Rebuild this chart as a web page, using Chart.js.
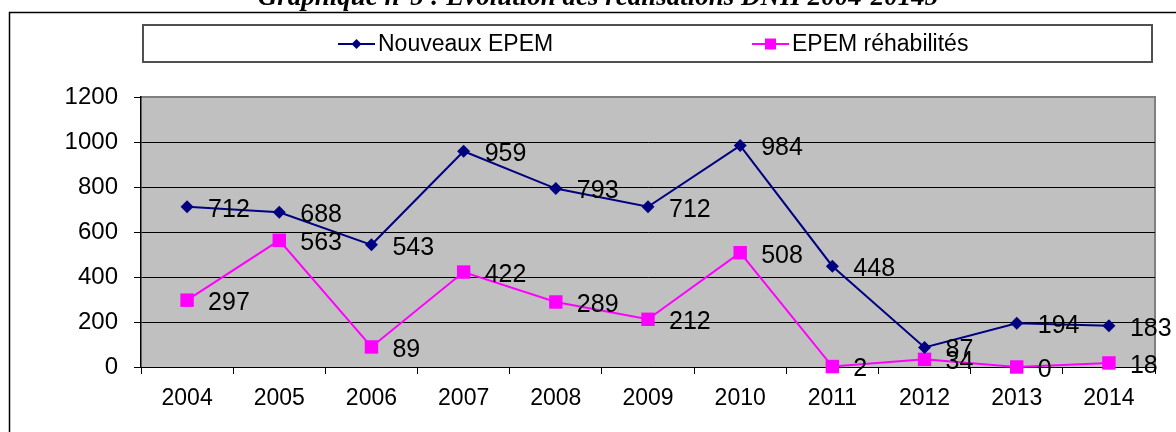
<!DOCTYPE html>
<html>
<head>
<meta charset="utf-8">
<script src="https://cdn.jsdelivr.net/npm/chart.js@4/dist/chart.umd.min.js"></script>
<style>
  html, body { margin: 0; padding: 0; background: #fff; }
  #wrap { width: 1176px; height: 432px; position: relative; }
</style>
</head>
<body>
<div id="wrap"><canvas id="chart" width="1176" height="432"></canvas></div>
<script>
// Data
const years = ['2004', '2005', '2006', '2007', '2008', '2009', '2010', '2011', '2012', '2013', '2014'];
const nouveaux = [712, 688, 543, 959, 793, 712, 984, 448, 87, 194, 183];
const rehabilites = [297, 563, 89, 422, 289, 212, 508, 2, 34, 0, 18];
const yTicks = [0, 200, 400, 600, 800, 1000, 1200];
const titleText = 'Graphique n°5 : Evolution des réalisations DNH 2004-20145';

const FONT = '"Liberation Sans", Arial, sans-serif';

// background, plot frame, outer frame, title, legend, value labels
const framePlugin = {
    id: 'frame',
    beforeDraw(chart) {
        const { ctx, chartArea: a } = chart;
        ctx.save();
        ctx.fillStyle = '#fff';
        ctx.fillRect(0, 0, chart.width, chart.height);
        ctx.fillStyle = '#c0c0c0';
        ctx.fillRect(a.left, a.top, a.right - a.left, a.bottom - a.top);
        ctx.strokeStyle = '#808080';
        ctx.lineWidth = 2;
        ctx.beginPath();
        ctx.moveTo(a.left, a.top);
        ctx.lineTo(a.right, a.top);
        ctx.lineTo(a.right, a.bottom);
        ctx.stroke();
        ctx.restore();
    },
    afterDraw(chart) {
        const { ctx } = chart;
        ctx.save();
        // outer frame
        ctx.strokeStyle = '#000';
        ctx.lineWidth = 1.5;
        ctx.beginPath();
        ctx.moveTo(9.5, chart.height);
        ctx.lineTo(9.5, 12.5);
        ctx.lineTo(chart.width, 12.5);
        ctx.stroke();
        // title (cut at the top like the source)
        ctx.fillStyle = '#000';
        ctx.font = 'bold italic 27px "Liberation Serif", "Times New Roman", serif';
        ctx.textAlign = 'center';
        ctx.textBaseline = 'alphabetic';
        ctx.fillText(titleText, 598, 5);

        // legend box
        ctx.strokeStyle = '#505050';
        ctx.lineWidth = 2;
        ctx.strokeRect(143, 25, 1009, 37);
        const itemX = [338, 752];
        ctx.font = '23px ' + FONT;
        ctx.textAlign = 'left';
        ctx.textBaseline = 'middle';
        chart.data.datasets.forEach((ds, i) => {
            const x = itemX[i], y = 44;
            ctx.strokeStyle = ds.borderColor;
            ctx.lineWidth = 2;
            ctx.beginPath();
            ctx.moveTo(x, y);
            ctx.lineTo(x + 37, y);
            ctx.stroke();
            ctx.fillStyle = ds.pointBackgroundColor;
            if (ds.pointStyle === 'rectRot') {
                ctx.beginPath();
                ctx.moveTo(x + 18.5, y - 5);
                ctx.lineTo(x + 23.5, y);
                ctx.lineTo(x + 18.5, y + 5);
                ctx.lineTo(x + 13.5, y);
                ctx.closePath();
                ctx.fill();
            } else {
                ctx.fillRect(x + 13, y - 5.5, 11, 11);
            }
            ctx.fillStyle = '#000';
            ctx.fillText(ds.label, x + 40, y + 1);
        });
        ctx.restore();
    },
    afterDatasetsDraw(chart) {
        const { ctx } = chart;
        ctx.save();
        ctx.fillStyle = '#000';
        ctx.font = '25px ' + FONT;
        ctx.textAlign = 'left';
        ctx.textBaseline = 'middle';
        chart.data.datasets.forEach((ds, i) => {
            const meta = chart.getDatasetMeta(i);
            meta.data.forEach((pt, j) => {
                ctx.fillText(String(ds.data[j]), pt.x + 21, pt.y + 3);
            });
        });
        ctx.restore();
    }
};

new Chart(document.getElementById('chart'), {
    type: 'line',
    data: {
        labels: years,
        datasets: [{
            label: 'Nouveaux EPEM',
            data: nouveaux,
            borderColor: '#000080',
            backgroundColor: '#000080',
            pointBackgroundColor: '#000080',
            pointBorderColor: '#000080',
            pointStyle: 'rectRot',
            pointRadius: 6.5,
            pointBorderWidth: 0,
            borderWidth: 2,
            tension: 0,
            clip: false
        }, {
            label: 'EPEM réhabilités',
            data: rehabilites,
            borderColor: '#ff00ff',
            backgroundColor: '#ff00ff',
            pointBackgroundColor: '#ff00ff',
            pointBorderColor: '#ff00ff',
            pointStyle: 'rect',
            pointRadius: 9.5,
            pointBorderWidth: 0,
            borderWidth: 2,
            tension: 0,
            clip: false
        }]
    },
    options: {
        responsive: false,
        animation: false,
        events: [],
        layout: { padding: { left: 10, top: 97, right: 21, bottom: 5 } },
        plugins: {
            legend: { display: false },
            tooltip: { enabled: false }
        },
        scales: {
            x: {
                offset: true,
                afterFit: s => { s.height = 60; },
                grid: {
                    offset: true,
                    drawOnChartArea: false,
                    drawTicks: true,
                    tickLength: 7,
                    color: '#000'
                },
                border: { color: '#000', width: 1 },
                ticks: { color: '#000', padding: 11, maxRotation: 0, font: { family: FONT, size: 23 } }
            },
            y: {
                min: 0,
                max: 1200,
                afterFit: s => { s.width = 131; },
                afterBuildTicks: s => { s.ticks = yTicks.map(v => ({ value: v })); },
                grid: {
                    color: ctx => ctx.tick && ctx.tick.value === 1200 ? 'rgba(0,0,0,0)' : '#000',
                    lineWidth: 1,
                    tickLength: 7,
                    tickColor: '#000'
                },
                border: { color: '#000', width: 1.5 },
                ticks: {
                    color: '#000',
                    padding: 16,
                    font: { family: FONT, size: 24 },
                    callback: v => String(v)
                }
            }
        }
    },
    plugins: [framePlugin]
});
</script>
</body>
</html>
